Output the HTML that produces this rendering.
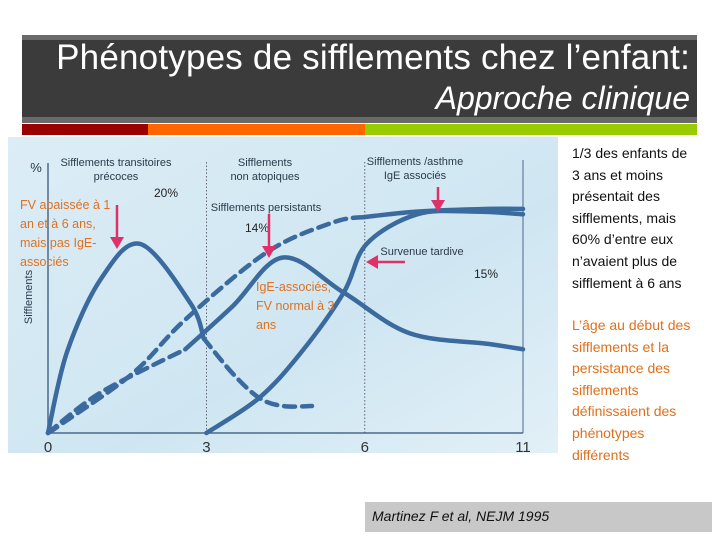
<!DOCTYPE html>
<html><head><meta charset="utf-8"><style>
body{margin:0;width:720px;height:540px;background:#fff;overflow:hidden;position:relative;font-family:"Liberation Sans",sans-serif}
.abs{position:absolute}
#hdr{left:22px;top:35px;width:675px;height:88px;background:#6a6a6a}
#hdrin{left:22px;top:40px;width:675px;height:77px;background:#3b3b3b}
#t1{right:30px;top:38px;color:#fff;font-size:35px;letter-spacing:0.2px;white-space:nowrap}
#t2{right:30px;top:80px;color:#fff;font-size:32px;font-style:italic;white-space:nowrap}
.rt{left:572px;font-size:14px;line-height:21.6px;color:#111;white-space:nowrap}
</style></head><body>
<div class="abs" id="hdr"></div>
<div class="abs" id="hdrin"></div>
<div class="abs" id="t1">Phénotypes de sifflements chez l’enfant:</div>
<div class="abs" id="t2">Approche clinique</div>
<div class="abs" style="left:22px;top:124px;width:126px;height:11px;background:#990000"></div>
<div class="abs" style="left:148px;top:124px;width:217px;height:11px;background:#ff6600"></div>
<div class="abs" style="left:365px;top:124px;width:332px;height:11px;background:#99cc00"></div>

<svg class="abs" style="left:0;top:0" width="720" height="540">
<defs><linearGradient id="bg" x1="0" y1="0" x2="1" y2="1"><stop offset="0" stop-color="#dcedf6"/><stop offset="0.6" stop-color="#cfe6f2"/><stop offset="1" stop-color="#e2f0f7"/></linearGradient></defs>
<rect x="8" y="137" width="550" height="316" fill="url(#bg)"/>
<g id="plot"></g>
</svg>

<div class="abs rt" style="top:143px">1/3 des enfants de<br>3 ans et moins<br>présentait des<br>sifflements, mais<br>60% d’entre eux<br>n’avaient plus de<br>sifflement à 6 ans</div>
<div class="abs rt" style="top:315px;color:#e0701c">L’âge au début des<br>sifflements et la<br>persistance des<br>sifflements<br>définissaient des<br>phénotypes<br>différents</div>
<div class="abs" style="left:365px;top:502px;width:347px;height:30px;background:#c8c8c8"></div>
<div class="abs" style="left:372px;top:508px;font-size:14px;font-style:italic;color:#111">Martinez F et al, NEJM 1995</div>

<script>
const xTicks=[0,3,6,11];
const transientAges=[0,0.36,1.0,1.75,2.7,2.95,3.5,4.0,4.45,5.0];
const transientVals=[0,30,57,70,48,35,22,13,10,10];
const nonAtopicAges=[0,1,2.6,3.5,4.45,5.6,7.4,9.9,11];
const nonAtopicVals=[0,15,31,47,65,52,37,33,31];
const persistAges=[0,0.23,1.6,2.6,4.15,5.4,6,7.65,9.9,11];
const persistVals=[0,3,22,42,67,78,80,82,83,83];
const lateAges=[3,4,4.8,5.6,6.05,7.65,9.5,11];
const lateVals=[0,13,30,52,70,81,82,81];
const NS='http://www.w3.org/2000/svg';
const g=document.getElementById('plot');
function X(a){return a<=6?48+a*52.8:365+(a-6)*31.6;}
function Y(v){return 433-v*2.7;}
function el(t,at){const e=document.createElementNS(NS,t);for(const k in at)e.setAttribute(k,at[k]);g.appendChild(e);return e;}
function path(ages,vals){let p=[];for(let i=0;i<ages.length;i++)p.push([X(ages[i]),Y(vals[i])]);
 let d='M'+p[0][0]+','+p[0][1];
 for(let i=0;i<p.length-1;i++){const p0=p[i-1]||p[i],p1=p[i],p2=p[i+1],p3=p[i+2]||p2;
  d+=' C'+(p1[0]+(p2[0]-p0[0])/6)+','+(p1[1]+(p2[1]-p0[1])/6)+' '+(p2[0]-(p3[0]-p1[0])/6)+','+(p2[1]-(p3[1]-p1[1])/6)+' '+p2[0]+','+p2[1];}
 return d;}
function clipSeg(ages,vals,lo,hi){const a=[],v=[];for(let i=0;i<ages.length;i++)if(ages[i]>=lo&&ages[i]<=hi){a.push(ages[i]);v.push(vals[i]);}return [a,v];}
let e=el('line',{x1:X(0),y1:Y(0),x2:X(11),y2:Y(0),stroke:'#4a6a8a','stroke-width':1.5});

e=el('line',{x1:X(0),y1:Y(0),x2:X(0),y2:163,stroke:'#4a6a8a','stroke-width':1.5});

e=el('line',{x1:X(11),y1:Y(0),x2:X(11),y2:160,stroke:'#4a6a8a','stroke-width':1});

[3,6].forEach(t=>{const l=el('line',{x1:X(t),y1:Y(0),x2:X(t),y2:160,stroke:'#445','stroke-width':0.8,'stroke-dasharray':'1.5,2'});
});
xTicks.forEach(t=>{const tx=el('text',{x:X(t),y:452,'font-size':15,'text-anchor':'middle',fill:'#333'});tx.textContent=t;
});
function txt(x,y,s,name,o){const t=el('text',Object.assign({x:x,y:y,'font-size':11,fill:'#2a3a4a','text-anchor':'middle'},o||{}));t.textContent=s;
return t;}
txt(36,172,'%','y-unit',{'font-size':13});
txt(32,297,'Sifflements','y-axis-title',{transform:'rotate(-90 32 297)','font-size':11});
txt(116,166,'Sifflements transitoires','header-transient');txt(116,180,'précoces','header-transient-2');
txt(265,166,'Sifflements','header-nonatopic');txt(265,180,'non atopiques','header-nonatopic-2');
txt(415,165,'Sifflements /asthme','header-ige');txt(415,179,'IgE associés','header-ige-2');
txt(266,211,'Sifflements persistants','label-persistent');
txt(422,255,'Survenue tardive','label-late');
txt(166,197,'20%','pct-transient',{'font-size':12,fill:'#222'});
txt(257,232,'14%','pct-persistent',{'font-size':12,fill:'#222'});
txt(486,278,'15%','pct-late',{'font-size':12,fill:'#222'});
function curve(a,v,dash,name){const p=el('path',{d:path(a,v),fill:'none',stroke:'#3a6a9e','stroke-width':4.5,'stroke-linecap':'round'});
 if(dash)p.setAttribute('stroke-dasharray','11,7');
 }
let s=clipSeg(transientAges,transientVals,0,2.95);curve(s[0],s[1],false,'transient-solid');
s=clipSeg(transientAges,transientVals,2.95,6);curve(s[0],s[1],true,'transient-dashed');
s=clipSeg(nonAtopicAges,nonAtopicVals,0,2.6);curve(s[0],s[1],true,'nonatopic-dashed');
s=clipSeg(nonAtopicAges,nonAtopicVals,2.6,11);curve(s[0],s[1],false,'nonatopic-solid');
s=clipSeg(persistAges,persistVals,0,6);curve(s[0],s[1],true,'persistent-dashed');
s=clipSeg(persistAges,persistVals,6,11);curve(s[0],s[1],false,'persistent-solid');
curve(lateAges,lateVals,false,'late-onset-solid');
function arrow(x1,y1,x2,y2,name){const l=el('line',{x1:x1,y1:y1,x2:x2,y2:y2,stroke:'#e0306a','stroke-width':2.5});
 
 const dx=x2-x1,dy=y2-y1,L=Math.hypot(dx,dy),ux=dx/L,uy=dy/L;
 const h=el('polygon',{points:`${x2+ux*4},${y2+uy*4} ${x2-ux*8-uy*7},${y2-uy*8+ux*7} ${x2-ux*8+uy*7},${y2-uy*8-ux*7}`,fill:'#e0306a'});
 }
arrow(117,205,117,245,'arrow-transient');arrow(269,214,269,254,'arrow-persistent');
arrow(438,187,438,208,'arrow-ige');arrow(405,262,370,262,'arrow-late');
</script>
<div class="abs" style="left:20px;top:196px;font-size:12.5px;line-height:19px;color:#e07020;white-space:nowrap">FV abaissée à 1<br>an et à 6 ans,<br>mais pas IgE-<br>associés</div>
<div class="abs" style="left:256px;top:278px;font-size:12.5px;line-height:19px;color:#e07020;white-space:nowrap">IgE-associés,<br>FV normal à 3<br>ans</div>
</body></html>
